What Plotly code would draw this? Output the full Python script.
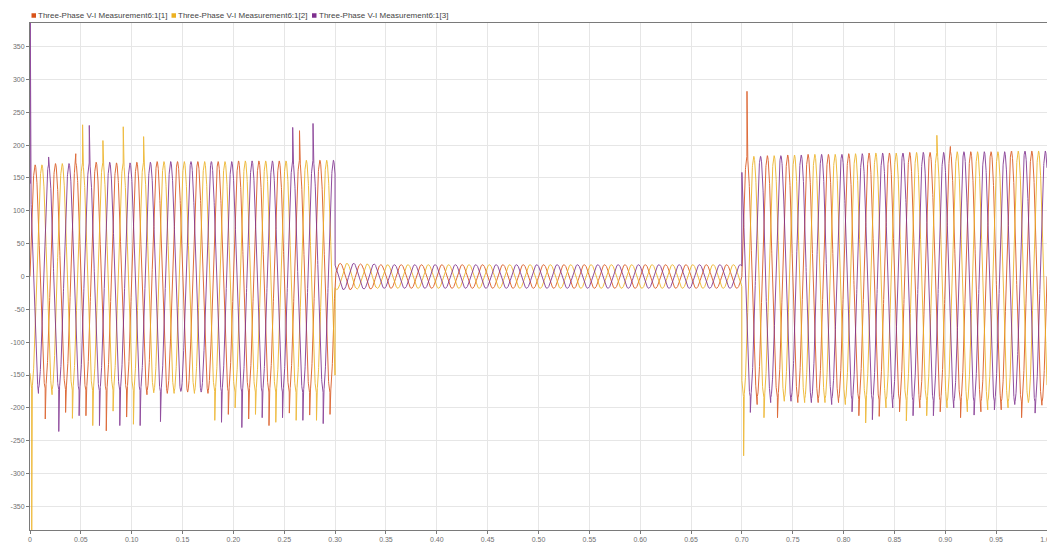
import numpy as np
import plotly.graph_objects as go

# ---------------- data ----------------
SERIES_NAMES = [
    "Three-Phase V-I Measurement6:1[1]",
    "Three-Phase V-I Measurement6:1[2]",
    "Three-Phase V-I Measurement6:1[3]",
]
SERIES_COLORS = ["#D95319", "#EDB120", "#7E2F8E"]

FREQ_HZ = 50
PHASE_SHIFT_DEG = [0, -120, 120]
SAMPLE_STEP_S = 0.0001
SEGMENT_BOUNDS_S = [0.0, 0.30, 0.70, 1.00]

# peak amplitude of every 20 ms cycle, per segment
CYCLE_PEAK_SEG1 = [170, 172, 173, 174, 173, 174, 175, 175, 175, 175, 176, 176, 176, 177, 177]
CYCLE_PEAK_SEG2 = [20, 19, 18, 18, 18, 18, 18, 18, 18, 18, 18, 18, 18, 18, 18, 18, 18, 18, 18, 18]
CYCLE_PEAK_SEG3 = [183, 184, 185, 186, 186, 187, 188, 188, 189, 189, 190, 190, 190, 191, 191]

# lowest value reached at each cycle's trough (spikes), segment 1 and segment 3
TROUGH_SEG1_PH1 = [-217, -207, -212, -235, -214, -180, -178, -176, -178, -210, -217, -227, -208, -211, -210]
TROUGH_SEG1_PH2 = [-390, -180, -216, -227, -205, -225, -177, -178, -178, -219, -200, -210, -222, -219, -219]
TROUGH_SEG1_PH3 = [-178, -236, -212, -227, -227, -227, -221, -175, -176, -222, -230, -215, -215, -219, -224]
TROUGH_SEG3_PH1 = [-195, -215, -192, -192, -192, -212, -213, -206, -200, -206, -215, -206, -203, -215, -196]
TROUGH_SEG3_PH2 = [-273, -215, -190, -192, -192, -195, -223, -200, -220, -212, -200, -206, -203, -200, -192]
TROUGH_SEG3_PH3 = [-207, -192, -190, -192, -195, -206, -218, -200, -212, -212, -200, -211, -203, -195, -208]

# isolated upward spikes: times (s) and values
PEAK_SPIKE_T_PH1 = [0.045, 0.265, 0.705, 0.905]
PEAK_SPIKE_V_PH1 = [187, 222, 282, 198]
PEAK_SPIKE_T_PH2 = [0.0517, 0.0717, 0.0917, 0.1117, 0.8917]
PEAK_SPIKE_V_PH2 = [231, 207, 228, 213, 215]
PEAK_SPIKE_T_PH3 = [0.0003, 0.0183, 0.0583, 0.2583, 0.2783]
PEAK_SPIKE_V_PH3 = [392, 182, 230, 227, 233]

# small commutation notches (electrical angle, depth)
NOTCH_ANGLES_DEG = [40, 220]
NOTCH_DEPTH = 22

X_TICK_VALUES = [0, 0.05, 0.10, 0.15, 0.20, 0.25, 0.30, 0.35, 0.40, 0.45, 0.50,
                 0.55, 0.60, 0.65, 0.70, 0.75, 0.80, 0.85, 0.90, 0.95, 1.00]
X_TICK_LABELS = ["0", "0.05", "0.10", "0.15", "0.20", "0.25", "0.30", "0.35", "0.40", "0.45", "0.50",
                 "0.55", "0.60", "0.65", "0.70", "0.75", "0.80", "0.85", "0.90", "0.95", "1.00"]
Y_TICK_VALUES = [-350, -300, -250, -200, -150, -100, -50, 0, 50, 100, 150, 200, 250, 300, 350]
Y_TICK_LABELS = ["-350", "-300", "-250", "-200", "-150", "-100", "-50", "0", "50", "100",
                 "150", "200", "250", "300", "350"]

# ---------------- build waveforms ----------------
period = 1.0 / FREQ_HZ
t = np.round(np.arange(0, SEGMENT_BOUNDS_S[-1] + SAMPLE_STEP_S / 2, SAMPLE_STEP_S), 6)
omega = 2 * np.pi * FREQ_HZ

cycle_peaks = [CYCLE_PEAK_SEG1, CYCLE_PEAK_SEG2, CYCLE_PEAK_SEG3]
amp = np.zeros_like(t)
for s in range(3):
    s0, s1 = SEGMENT_BOUNDS_S[s], SEGMENT_BOUNDS_S[s + 1]
    mask = (t >= s0 - 1e-9) & (t < s1 - 1e-9) if s < 2 else (t >= s0 - 1e-9)
    k = np.floor((t[mask] - s0) / period + 1e-9).astype(int)
    k = np.clip(k, 0, len(cycle_peaks[s]) - 1)
    amp[mask] = np.array(cycle_peaks[s])[k]

troughs = [
    (TROUGH_SEG1_PH1, TROUGH_SEG3_PH1),
    (TROUGH_SEG1_PH2, TROUGH_SEG3_PH2),
    (TROUGH_SEG1_PH3, TROUGH_SEG3_PH3),
]
peak_spikes = [
    (PEAK_SPIKE_T_PH1, PEAK_SPIKE_V_PH1),
    (PEAK_SPIKE_T_PH2, PEAK_SPIKE_V_PH2),
    (PEAK_SPIKE_T_PH3, PEAK_SPIKE_V_PH3),
]


def idx(tt):
    return int(round(tt / SAMPLE_STEP_S))


fig = go.Figure()
for p in range(3):
    ph = np.deg2rad(PHASE_SHIFT_DEG[p])
    y = amp * np.sin(omega * t + ph)

    # notches in the high-current segments
    for s in (0, 2):
        s0, s1 = SEGMENT_BOUNDS_S[s], SEGMENT_BOUNDS_S[s + 1]
        for ang in NOTCH_ANGLES_DEG:
            t_first = (((np.deg2rad(ang) - ph) / omega) % period)
            tt = s0 + t_first
            while tt < s1 - 0.001:
                i = idx(tt)
                if 0 <= i < len(y):
                    y[i] -= np.sign(y[i]) * NOTCH_DEPTH
                tt += period

    # trough spikes
    for s, lst in zip((0, 2), troughs[p]):
        s0 = SEGMENT_BOUNDS_S[s]
        t_first = (((1.5 * np.pi - ph) / omega) % period)
        for k, v in enumerate(lst):
            i = idx(s0 + t_first + k * period)
            if 0 <= i < len(y):
                y[i] = min(y[i], v)

    # isolated upward spikes
    for tt, v in zip(*peak_spikes[p]):
        i = idx(tt)
        y[i] = v

    fig.add_trace(go.Scatter(
        x=t, y=y, mode="lines", name=SERIES_NAMES[p],
        line=dict(color=SERIES_COLORS[p], width=1),
        opacity=0.85,
        showlegend=False, hoverinfo="skip",
    ))

# ---------------- layout ----------------
W, H = 1047, 547
ML, MR, MT, MB = 30, 0, 23, 17
pw, ph_ = W - ML - MR, H - MT - MB

axis_common = dict(
    showgrid=True, gridcolor="#e6e6e6", gridwidth=1,
    showline=True, linecolor="#7a7a7a", linewidth=1, mirror=True,
    ticks="outside", ticklen=3, tickcolor="#7a7a7a",
    tickfont=dict(family="Liberation Sans, Arial, sans-serif", size=7, color="#707070"),
    zeroline=False, ticklabeloverflow="allow", automargin=False,
)

fig.update_layout(
    autosize=True,
    margin=dict(l=ML, r=MR, t=MT, b=MB, pad=0, autoexpand=False),
    paper_bgcolor="white", plot_bgcolor="white",
    xaxis=dict(range=[0, 1.0], tickmode="array", tickvals=X_TICK_VALUES,
               ticktext=X_TICK_LABELS, **axis_common),
    yaxis=dict(range=[-386, 386], tickmode="array", tickvals=Y_TICK_VALUES,
               ticktext=Y_TICK_LABELS, **axis_common),
    showlegend=False,
)

# legend drawn as swatches + text above the plot
LEGEND_SWATCH_PX = [31.5, 171.5, 312]
legend_y_px = 15.5
for name, color, px in zip(SERIES_NAMES, SERIES_COLORS, LEGEND_SWATCH_PX):
    x0 = (px - ML) / pw
    x1 = (px + 4.5 - ML) / pw
    yc = 1 + (MT - legend_y_px) / ph_
    fig.add_shape(type="rect", xref="paper", yref="paper",
                  x0=x0, x1=x1, y0=yc - 2.25 / ph_, y1=yc + 2.25 / ph_,
                  fillcolor=color, line=dict(width=0))
    fig.add_annotation(xref="paper", yref="paper", x=(px + 5.5 - ML) / pw, y=yc,
                       xanchor="left", yanchor="middle", showarrow=False,
                       text=name, borderpad=0,
                       font=dict(family="Liberation Sans, Arial, sans-serif", size=8, color="#444444"))

fig.write_html("out.html", default_width="100%", default_height="100%",
               config={"responsive": True})
